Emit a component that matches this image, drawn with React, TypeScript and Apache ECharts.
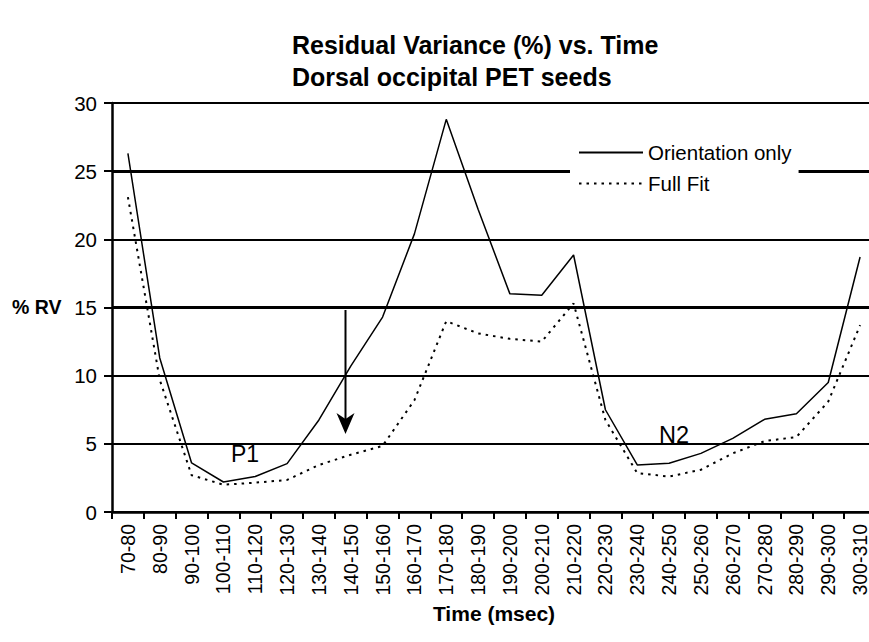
import React, { useEffect, useRef } from "react";
import * as echarts from "echarts";

const categories = [
  "70-80", "80-90", "90-100", "100-110", "110-120", "120-130", "130-140", "140-150",
  "150-160", "160-170", "170-180", "180-190", "190-200", "200-210", "210-220", "220-230",
  "230-240", "240-250", "250-260", "260-270", "270-280", "280-290", "290-300", "300-310",
];

const orientationOnly = [
  26.3, 11.3, 3.6, 2.2, 2.6, 3.55, 6.75, 10.7, 14.3, 20.4, 28.8, 22.2,
  16.0, 15.9, 18.85, 7.5, 3.45, 3.57, 4.3, 5.4, 6.8, 7.2, 9.5, 18.7,
];

const fullFit = [
  23.1, 9.7, 2.7, 2.0, 2.15, 2.35, 3.45, 4.2, 4.85, 8.2, 14.0, 13.1,
  12.7, 12.5, 15.3, 6.75, 2.85, 2.6, 3.1, 4.3, 5.2, 5.5, 8.1, 13.7,
];

const yTicks = { min: 0, max: 30, interval: 5 };
const thickLevels = [25, 15];

const FONT = "'Liberation Sans', Arial, Helvetica, sans-serif";

export default function App() {
  const ref = useRef<HTMLDivElement>(null);

  useEffect(() => {
    document.body.style.margin = "0";
    const chart = echarts.init(ref.current!, null, { renderer: "svg" });
    chart.setOption({
      animation: false,
      backgroundColor: "#ffffff",
      textStyle: { fontFamily: FONT, color: "#000" },
      title: {
        text: "Residual Variance (%) vs. Time\nDorsal occipital PET seeds",
        left: 292,
        top: 29,
        padding: 0,
        textStyle: {
          fontFamily: FONT,
          fontSize: 25,
          fontWeight: "bold",
          color: "#000",
          lineHeight: 32,
        },
      },
      legend: {
        data: ["Orientation only", "Full Fit"],
        orient: "vertical",
        left: 570,
        top: 137,
        z: 10,
        padding: [5, 7, 5, 8],
        backgroundColor: "#ffffff",
        itemWidth: 64,
        itemHeight: 14,
        itemGap: 10,
        selectedMode: false,
        itemStyle: { opacity: 0 },
        textStyle: { fontFamily: FONT, fontSize: 20.5, lineHeight: 20, color: "#000" },
      },
      grid: {
        left: 112,
        top: 103,
        width: 764,
        height: 409,
        outerBoundsMode: "none",
        containLabel: false,
      },
      xAxis: {
        type: "category",
        data: categories,
        boundaryGap: true,
        name: "Time (msec)",
        nameLocation: "middle",
        nameGap: 90,
        nameTextStyle: { fontFamily: FONT, fontSize: 21, fontWeight: "bold", color: "#000" },
        axisLine: { show: true, lineStyle: { color: "#000", width: 2.5 } },
        axisTick: { show: true, length: 7, lineStyle: { color: "#000", width: 2 } },
        axisLabel: {
          interval: 0,
          rotate: 90,
          margin: 12,
          fontFamily: FONT,
          fontSize: 19.5,
          color: "#000",
        },
        splitLine: { show: false },
      },
      yAxis: {
        type: "value",
        min: yTicks.min,
        max: yTicks.max,
        interval: yTicks.interval,
        axisLine: { show: true, lineStyle: { color: "#000", width: 2.5 } },
        axisTick: { show: true, length: 8, lineStyle: { color: "#000", width: 2 } },
        axisLabel: { margin: 15, fontFamily: FONT, fontSize: 20.5, color: "#000" },
        splitLine: { show: true, lineStyle: { color: "#000", width: 2 } },
      },
      series: [
        {
          name: "Orientation only",
          type: "line",
          data: orientationOnly,
          symbol: "none",
          lineStyle: { color: "#000", width: 1.5, type: "solid" },
          itemStyle: { color: "#000" },
          markLine: {
            silent: true,
            z: 1,
            symbol: "none",
            label: { show: false },
            lineStyle: { color: "#000", width: 3, type: "solid" },
            data: thickLevels.map((v) => ({ yAxis: v })),
          },
        },
        {
          name: "Full Fit",
          type: "line",
          data: fullFit,
          symbol: "none",
          lineStyle: { color: "#000", width: 2, type: [2.5, 5] },
          itemStyle: { color: "#000" },
        },
      ],
      graphic: [
        {
          type: "text",
          left: 12,
          top: 297,
          style: { text: "% RV", fontFamily: FONT, fontSize: 19.5, fontWeight: "bold", fill: "#000" },
        },
        {
          type: "text",
          left: 231,
          top: 442,
          style: { text: "P1", fontFamily: FONT, fontSize: 23, fill: "#000" },
        },
        {
          type: "text",
          left: 659,
          top: 423,
          style: { text: "N2", fontFamily: FONT, fontSize: 23.5, fill: "#000" },
        },
        {
          type: "line",
          shape: { x1: 345.5, y1: 310, x2: 345.5, y2: 422 },
          style: { stroke: "#000", lineWidth: 2 },
        },
        {
          type: "polygon",
          shape: {
            points: [
              [336.5, 413],
              [345.5, 419],
              [354.5, 413],
              [345.5, 434],
            ],
          },
          style: { fill: "#000" },
        },
      ],
    });
    return () => chart.dispose();
  }, []);

  return (
    <div
      ref={ref}
      style={{ width: 869, height: 642, position: "absolute", left: 0, top: 0 }}
    />
  );
}
